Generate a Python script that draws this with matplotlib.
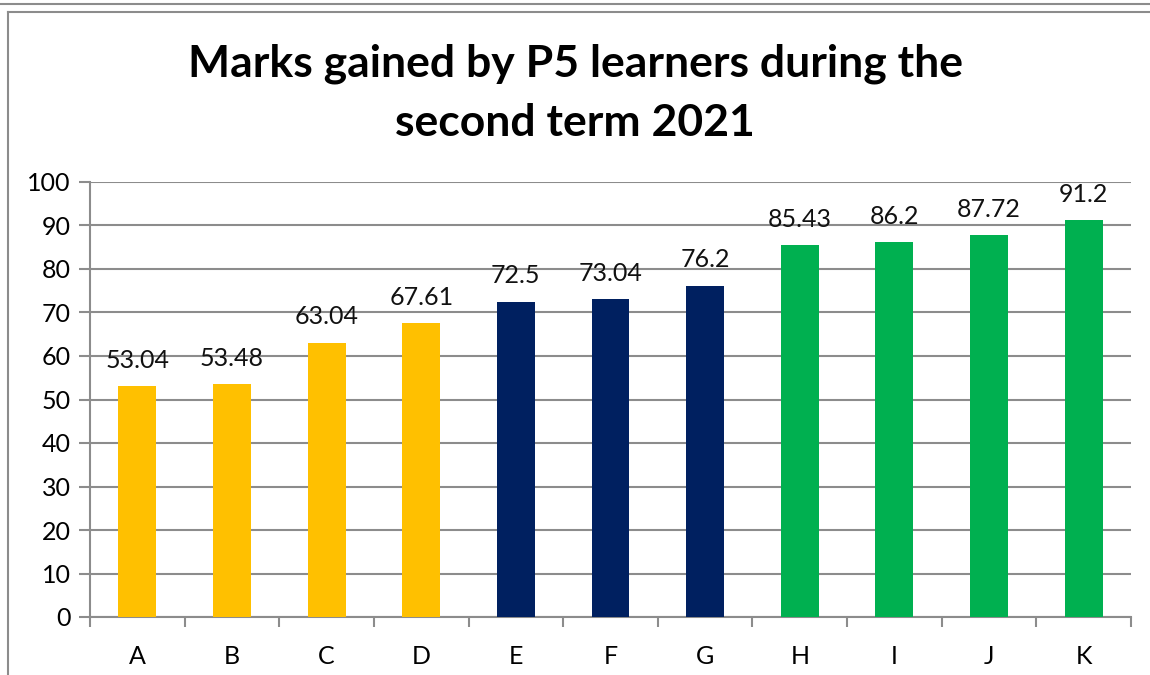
import matplotlib.pyplot as plt
from matplotlib.lines import Line2D

plt.rcParams['font.family'] = ['Lato', 'DejaVu Sans']

# data
learners = ['A', 'B', 'C', 'D', 'E', 'F', 'G', 'H', 'I', 'J', 'K']
marks = [53.04, 53.48, 63.04, 67.61, 72.5, 73.04, 76.2, 85.43, 86.2, 87.72, 91.2]
bar_colors = ['#FFC000'] * 4 + ['#002060'] * 3 + ['#00B050'] * 4
yticks = [0, 10, 20, 30, 40, 50, 60, 70, 80, 90, 100]

W, H = 1150, 675
fig = plt.figure(figsize=(W / 100, H / 100), dpi=100)

# outer frame lines (pixel coords converted to figure fraction)
grey = '#8c8c8c'
fig.add_artist(Line2D([0, 1], [1 - 4 / H, 1 - 4 / H], color=grey, lw=1.5))
fig.add_artist(Line2D([8 / W, 1], [1 - 12 / H, 1 - 12 / H], color=grey, lw=1.5))
fig.add_artist(Line2D([8 / W, 8 / W], [0, 1 - 12 / H], color=grey, lw=1.5))

ax = fig.add_axes([90 / W, 1 - 617 / H, (1131 - 90) / W, (617 - 182) / H])

x = list(range(len(learners)))
bars = ax.bar(x, marks, width=0.4, color=bar_colors, zorder=3)
for xi, v in zip(x, marks):
    ax.text(xi, v + 3.3, f'{v:g}', ha='center', va='bottom', fontsize=18, color='#111111')

ax.set_xlim(-0.5, len(learners) - 0.5)
ax.set_ylim(0, 100)
ax.set_yticks(yticks)
ax.tick_params(axis='y', length=8, width=1.5, color=grey, labelsize=18, pad=6)
ax.grid(axis='y', color=grey, lw=1.5, zorder=0)

# x ticks on category boundaries, labels centred
ax.set_xticks([i - 0.5 for i in range(len(learners) + 1)])
ax.set_xticklabels([])
ax.set_xticks(x, minor=True)
ax.set_xticklabels(learners, minor=True, fontsize=18)
ax.tick_params(axis='x', which='major', length=7, width=1.5, color=grey, direction='out')
ax.tick_params(axis='x', which='minor', length=0, pad=20)

for s in ['top', 'right']:
    ax.spines[s].set_visible(False)
for s in ['left', 'bottom']:
    ax.spines[s].set_color(grey)
    ax.spines[s].set_linewidth(1.5)

fig.text(0.5, 1 - 64 / H, 'Marks gained by P5 learners during the', ha='center', va='center',
         fontsize=32, fontweight='bold')
fig.text(0.5, 1 - 123 / H, 'second term 2021', ha='center', va='center',
         fontsize=32, fontweight='bold')

fig.savefig('out.png', dpi=100)
